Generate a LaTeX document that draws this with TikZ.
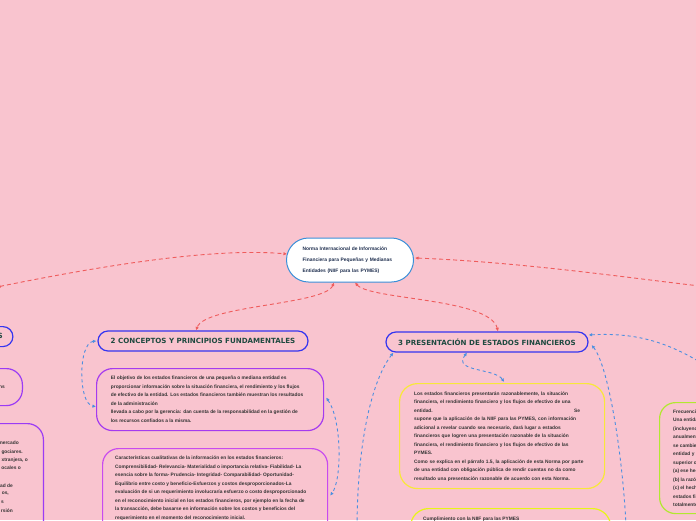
\documentclass[tikz,border=0pt]{standalone}
\usepackage{fontspec}
\setmainfont{Liberation Sans}
\newfontfamily\titlefont{DejaVu Sans}
\usetikzlibrary{arrows.meta,calc}
\hyphenpenalty=10000
\exhyphenpenalty=10000
\definecolor{bg}{HTML}{F9C4CF}
\definecolor{nifblue}{HTML}{3A8FD8}
\definecolor{navy}{HTML}{1F2F4F}
\definecolor{titleblue}{HTML}{3535F0}
\definecolor{titlegreen}{HTML}{1E4A40}
\definecolor{purpleA}{HTML}{9B3BF5}
\definecolor{purpleB}{HTML}{A53BEF}
\definecolor{magentaB}{HTML}{C84BEF}
\definecolor{yellowA}{HTML}{F8E83A}
\definecolor{yellowB}{HTML}{E8F518}
\definecolor{greenA}{HTML}{B2E830}
\definecolor{bodygrey}{HTML}{333333}
\definecolor{redc}{HTML}{EF5C5C}
\definecolor{bluec}{HTML}{4C8FE0}
\tikzset{
  tip/.tip={Latex[length=3.5pt,width=3.5pt]},
  redline/.style={draw=redc, line width=0.9pt, dash pattern=on 4pt off 3pt, tip-tip},
  blueline/.style={draw=bluec, line width=0.9pt, dash pattern=on 3pt off 3pt, tip-tip},
  titlebox/.style={draw=titleblue, line width=1.2pt, rounded corners=10pt, inner sep=0pt,
    minimum height=20, text=titlegreen, font=\titlefont\bfseries\fontsize{7.1}{8}\selectfont},
  textbox/.style={line width=1.2pt, rounded corners=16pt, inner sep=0pt, anchor=north west},
  bodytext/.style={inner sep=0pt, anchor=north west, align=left, text=bodygrey,
    font=\bfseries\fontsize{4.85}{8.5}\selectfont},
  fragment/.style={inner sep=0pt, anchor=east, text=bodygrey, font=\bfseries\fontsize{4.85}{8.5}\selectfont}
}
\begin{document}
\begin{tikzpicture}[x=1pt,y=-1pt]
\fill[bg] (0,0) rectangle (696,520);
\useasboundingbox (0,0) rectangle (696,520);

% central node
\node (nif) [draw=nifblue, line width=1pt, fill=white, rounded corners=22pt,
  minimum width=127, minimum height=44, inner sep=0pt, text width=95, align=left,
  text=navy, font=\bfseries\fontsize{4.9}{11}\selectfont] at (350,260)
  {Norma Internacional de Información\\Financiera para Pequeñas y Medianas\\Entidades (NIIF para las PYMES)};

% title nodes
\node (concepts) [titlebox, minimum width=210] at (203,341) {2 CONCEPTOS Y PRINCIPIOS FUNDAMENTALES};
\node (presentation) [titlebox, minimum width=202] at (487,342) {3 PRESENTACIÓN DE ESTADOS FINANCIEROS};

% left, partly visible nodes
\node (leftA) [titlebox, anchor=north east, minimum width=150] at (13.5,326) {};
\node (leftAt) [inner sep=0pt, anchor=east, text=titlegreen, font=\titlefont\bfseries\fontsize{7.1}{8}\selectfont] at (3,336) {S};
\node (leftB) [textbox, draw=purpleA, anchor=north east, minimum width=150, minimum height=37] at (23,368) {};
\node (leftBt) [fragment] at (5,387) {ns};
\node (leftC) [textbox, draw=purpleA, anchor=north east, minimum width=150, minimum height=130] at (44,423) {};
\node (lc1) [fragment] at (19,443) {mercado};
\node (lc2) [fragment] at (23,452) {gociares.};
\node (lc3) [fragment] at (28,460) {xtranjera, o};
\node (lc4) [fragment] at (21,468) {ocales o};
\node (lc5) [fragment] at (13,486) {ad de};
\node (lc6) [fragment] at (9,494) {os,};
\node (lc7) [fragment] at (4,502) {s};
\node (lc8) [fragment] at (13,511) {rsión};

% concept boxes
\node (objbox) [textbox, draw=purpleB, minimum width=227, minimum height=62] at (96,368) {};
\node (objtext) [bodytext] at ($(objbox.north west)+(14.7,8)$)
  {El objetivo de los estados financieros de una pequeña o mediana entidad es\\
   proporcionar información sobre la situación financiera, el rendimiento y los flujos\\
   de efectivo de la entidad. Los estados financieros también muestran los resultados\\
   de la administración\\
   llevada a cabo por la gerencia: dan cuenta de la responsabilidad en la gestión de\\
   los recursos confiados a la misma.};

\node (charbox) [textbox, draw=magentaB, minimum width=225, minimum height=90] at (102,448) {};
\node (chartext) [bodytext] at ($(charbox.north west)+(13,8)$)
  {Características cualitativas de la información en los estados  financieros:\\
   Comprensibilidad- Relevancia- Materialidad o importancia relativa- Fiabilidad- La\\
   esencia sobre la forma- Prudencia- Integridad- Comparabilidad- Oportunidad-\\
   Equilibrio entre costo y beneficio-Esfuerzos y costos desproporcionados-La\\
   evaluación de si un requerimiento involucraría esfuerzo o costo desproporcionado\\
   en el reconocimiento inicial en los estados financieros, por ejemplo en la fecha de\\
   la transacción, debe basarse en información sobre los costos y beneficios del\\
   requerimiento en el momento del reconocimiento inicial.};

% presentation boxes
\node (yellow) [textbox, draw=yellowA, rounded corners=18pt, minimum width=205, minimum height=105] at (399,383) {};
\node (yellowtext) [bodytext, text width=180] at ($(yellow.north west)+(15,8.6)$)
  {Los estados financieros presentarán razonablemente, la situación\\
   financiera, el rendimiento financiero y los flujos de efectivo de una\\
   \makebox[160pt][l]{entidad.}Se\\
   supone que la aplicación de la NIIF para las PYMES, con información\\
   adicional a revelar cuando sea necesario, dará lugar a estados\\
   financieros que logren una presentación razonable de la situación\\
   financiera, el rendimiento financiero y los flujos de efectivo de las\\
   PYMES.\\
   Como se explica en el párrafo 1.5, la aplicación de esta Norma por parte\\
   de una entidad con obligación pública de rendir cuentas no da como\\
   resultado una presentación razonable de acuerdo con esta Norma.};

\node (yellow2) [textbox, draw=yellowB, rounded corners=18pt, minimum width=200, minimum height=60] at (410,508) {};
\node (yellow2text) [bodytext] at ($(yellow2.north west)+(13,8.6)$)
  {Cumplimiento con la NIIF para las PYMES};

\node (green) [textbox, draw=greenA, minimum width=120, minimum height=111] at (659,402) {};
\node (greentext) [bodytext] at ($(green.north west)+(14,7.6)$)
  {Frecuencia\\Una entidad\\(incluyendo\\anualmente\\se cambie\\entidad y\\superior o\\(a) ese hecho\\(b) la razón\\(c) el hecho\\estados financieros\\totalmente};

% free ends
\coordinate (offL) at (-3,287);
\coordinate (offR) at (700,286);
\coordinate (offB) at (357,525);
\coordinate (offR2) at (700,362);
\coordinate (offB2) at (626,525);

% red connectors
\draw[redline] (offL) .. controls (120,262) and (220,248) .. ($(nif.west)+(1,-6)$);
\draw[redline] ($(nif.south)+(-16,0)$) .. controls (325,305) and (205,305) .. ($(concepts.north)+(-7,0)$);
\draw[redline] ($(nif.south)+(5,0)$) .. controls (370,300) and (490,298) .. ($(presentation.north)+(11,0)$);
\draw[redline] ($(nif.east)+(1,-2)$) .. controls (520,262) and (630,278) .. (offR);

% blue connectors
\draw[blueline] ($(concepts.west)+(-1,0)$) .. controls (78,343) and (78,404) .. ($(objbox.west)+(0,7)$);
\draw[blueline] ($(objbox.east)+(2,-2)$) .. controls (342,420) and (342,480) .. ($(charbox.east)+(2,2)$);
\draw[blueline] ($(presentation.south west)+(8,0)$) .. controls (372,380) and (358,440) .. (offB);
\draw[blueline] ($(presentation.south)+(-20,0)$) .. controls (452,372) and (495,368) .. ($(yellow.north)+(2,-1)$);
\draw[blueline] ($(presentation.east)+(0,-7)$) .. controls (640,332) and (670,345) .. (offR2);
\draw[blueline] ($(presentation.east)+(3,3)$) .. controls (608,365) and (622,450) .. (offB2);
\end{tikzpicture}
\end{document}
